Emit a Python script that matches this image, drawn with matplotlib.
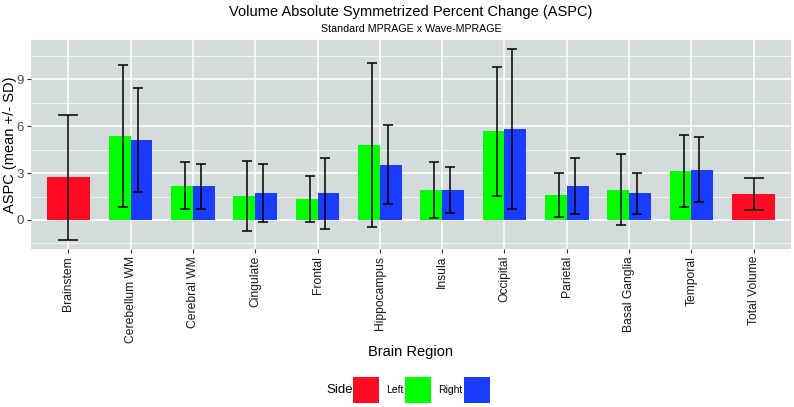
import numpy as np
import matplotlib
matplotlib.use("Agg")
import matplotlib.pyplot as plt
from matplotlib.patches import Rectangle

# ── DATA ────────────────────────────────────────────────────────────────────
regions = ["Brainstem", "Cerebellum WM", "Cerebral WM", "Cingulate", "Frontal",
           "Hippocampus", "Insula", "Occipital", "Parietal", "Basal Ganglia",
           "Temporal", "Total Volume"]

# single (midline) regions
single_regions = ["Brainstem", "Total Volume"]
single_mean    = [2.73, 1.66]
single_sd      = [4.00, 1.00]

# paired regions
paired_regions = ["Cerebellum WM", "Cerebral WM", "Cingulate", "Frontal",
                  "Hippocampus", "Insula", "Occipital", "Parietal",
                  "Basal Ganglia", "Temporal"]
left_mean  = [5.39, 2.20, 1.54, 1.34, 4.78, 1.94, 5.69, 1.62, 1.94, 3.13]
left_sd    = [4.55, 1.53, 2.25, 1.47, 5.24, 1.80, 4.13, 1.40, 2.29, 2.30]
right_mean = [5.10, 2.17, 1.73, 1.71, 3.52, 1.92, 5.82, 2.17, 1.71, 3.22]
right_sd   = [3.33, 1.44, 1.83, 2.26, 2.53, 1.50, 5.12, 1.82, 1.32, 2.09]

y_ticks = [0, 3, 6, 9]

# ── STYLE ───────────────────────────────────────────────────────────────────
plt.rcParams["font.family"] = ["Liberation Sans", "DejaVu Sans"]
COL_SINGLE = "#FF0A22"
COL_LEFT   = "#00FF00"
COL_RIGHT  = "#1A3CFF"
PANEL_BG   = "#D3DCDA"

fig = plt.figure(figsize=(7.94, 4.07), dpi=100)
ax = fig.add_axes([31 / 794, 1 - 249 / 407, 760 / 794, 209 / 407])
ax.set_facecolor(PANEL_BG)

pos = {r: i for i, r in enumerate(regions)}
xs_single = np.array([pos[r] for r in single_regions])
xs_paired = np.array([pos[r] for r in paired_regions])

# bars
ax.bar(xs_single, single_mean, width=0.7, color=COL_SINGLE, zorder=3)
ax.bar(xs_paired - 0.175, left_mean, width=0.35, color=COL_LEFT, zorder=3)
ax.bar(xs_paired + 0.175, right_mean, width=0.35, color=COL_RIGHT, zorder=3)

# error bars (dodged narrower than the bars)
ekw = dict(fmt="none", ecolor="black", elinewidth=1.1, capthick=1.1, zorder=4)
ax.errorbar(xs_single, single_mean, yerr=single_sd, capsize=7, **ekw)
ax.errorbar(xs_paired - 0.125, left_mean, yerr=left_sd, capsize=3.5, **ekw)
ax.errorbar(xs_paired + 0.125, right_mean, yerr=right_sd, capsize=3.5, **ekw)

ax.set_xlim(-0.6, len(regions) - 0.4)
ax.set_ylim(-1.86, 11.52)
ax.set_xticks(range(len(regions)))
ax.set_xticklabels(regions, rotation=90, fontsize=8.7, color="#1A1A1A")
ax.set_yticks(y_ticks)
ax.set_yticklabels([str(t) for t in y_ticks], fontsize=9.5, color="#4D4D4D")
ax.set_yticks([-1.5, 1.5, 4.5, 7.5, 10.5], minor=True)
ax.tick_params(axis="both", which="major", length=3, color="#333333", pad=2)
ax.tick_params(axis="y", which="minor", length=0)

ax.grid(True, which="major", color="white", linewidth=1.1, zorder=0)
ax.grid(True, which="minor", axis="y", color="white", linewidth=0.5, zorder=0)
ax.set_axisbelow(True)
for s in ax.spines.values():
    s.set_visible(False)

# titles and axis labels
fig.text(411 / 794, 1 - 12 / 407, "Volume Absolute Symmetrized Percent Change (ASPC)",
         ha="center", va="center", fontsize=10.5)
fig.text(411 / 794, 1 - 29 / 407, "Standard MPRAGE x Wave-MPRAGE",
         ha="center", va="center", fontsize=7.7)
fig.text(411 / 794, 1 - 352 / 407, "Brain Region", ha="center", va="center",
         fontsize=10.5)
fig.text(10 / 794, 1 - 144.5 / 407, "ASPC (mean +/- SD)", ha="center", va="center",
         rotation=90, fontsize=10.5)

# legend (drawn by hand to match layout)
ky = 1 - 403 / 407
kh = 26 / 407
kw = 26 / 794
fig.text(326 / 794, 1 - 390 / 407, "Side", ha="left", va="center", fontsize=9.5)
for x0, c in [(353, COL_SINGLE), (405.5, COL_LEFT), (464, COL_RIGHT)]:
    fig.patches.append(Rectangle((x0 / 794, ky), kw, kh, transform=fig.transFigure,
                                 facecolor=c, edgecolor="none"))
fig.text(386 / 794, 1 - 390 / 407, "Left", ha="left", va="center", fontsize=7.5)
fig.text(438 / 794, 1 - 390 / 407, "Right", ha="left", va="center", fontsize=7.5)

fig.savefig("out.png", dpi=100)
